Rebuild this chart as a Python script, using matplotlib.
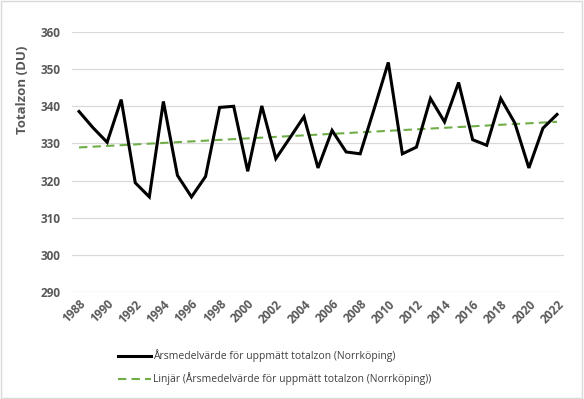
import numpy as np
import matplotlib
matplotlib.use("Agg")
import matplotlib.pyplot as plt

# yearly mean total ozone, Norrköping (DU)
years = np.arange(1988, 2023)
ozone = [338.6, 334.2, 330.3, 341.8, 319.4, 315.6, 341.3, 321.4, 315.6, 321.1,
         339.7, 340.0, 322.5, 340.1, 325.9, 331.5, 337.2, 323.4, 333.5, 327.7,
         327.2, 339.4, 351.8, 327.2, 329.0, 342.1, 335.8, 346.4, 331.0, 329.5,
         342.1, 335.5, 323.4, 334.1, 337.8]
yticks = [290, 300, 310, 320, 330, 340, 350, 360]
xticks = years[::2]

label_data = "Årsmedelvärde för uppmätt totalzon (Norrköping)"
label_trend = "Linjär (Årsmedelvärde för uppmätt totalzon (Norrköping))"

plt.rcParams['font.family'] = ['Open Sans', 'DejaVu Sans']

fig = plt.figure(figsize=(5.84, 3.99), dpi=100)
ax = fig.add_axes([0.1233, 0.2682, 0.8425, 0.6516])

# linear trend, like Excel's trendline
k, m = np.polyfit(years, ozone, 1)
trend = k * years + m

l1, = ax.plot(years, ozone, color='black', lw=2.2, solid_joinstyle='miter', zorder=3)
l2, = ax.plot(years, trend, color='#70AD47', lw=1.5, ls=(0, (4, 2.5)), zorder=2)

ax.set_xlim(1987.5, 2022.5)
ax.set_ylim(290, 360)
ax.set_yticks(yticks)
ax.set_xticks(xticks)
ax.set_xticklabels([str(y) for y in xticks], rotation=45, ha='right', rotation_mode='anchor')
ax.grid(axis='y', color='#d9d9d9', lw=0.9)
ax.set_axisbelow(True)
for s in ax.spines.values():
    s.set_visible(False)
ax.tick_params(length=0, colors='#595959', labelsize=8.5)
ax.tick_params(axis='x', pad=4)
ax.tick_params(axis='y', pad=8)
for t in ax.get_xticklabels() + ax.get_yticklabels():
    t.set_fontweight('bold')

# axis title sits high, as in the Excel original
fig.text(22.5 / 584, 1 - 90 / 399, "Totalzon (DU)", rotation=90, ha='center', va='center',
         color='#595959', fontsize=9.5, fontweight='bold')

fig.legend([l1, l2], [label_data, label_trend], loc='upper left',
           bbox_to_anchor=(0.195, 0.135), frameon=False, fontsize=7.5,
           handlelength=3.2, handletextpad=0.2, labelspacing=1.0,
           labelcolor='#404040', borderaxespad=0)

# thin frame around the whole chart
fig.patches.append(plt.Rectangle((0.002, 0.003), 0.995, 0.994, transform=fig.transFigure,
                                 fill=False, ec='#d9d9d9', lw=1))

fig.savefig("out.png", dpi=100)
